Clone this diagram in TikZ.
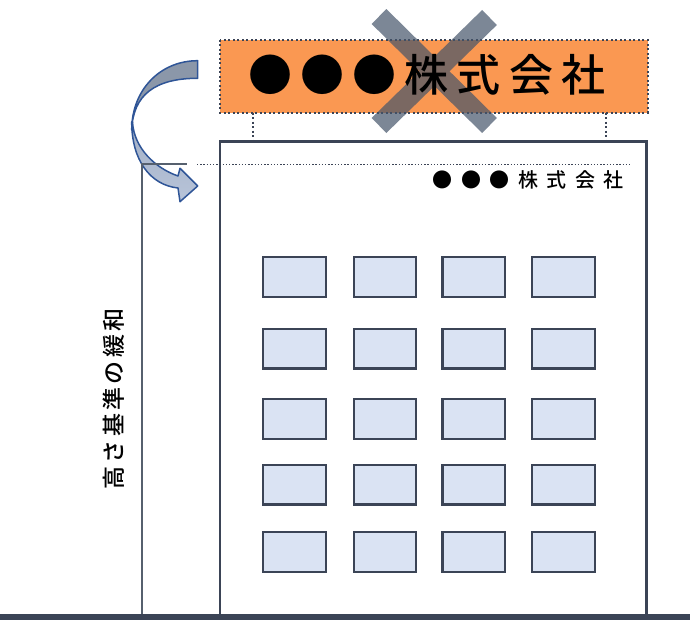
\documentclass[tikz,border=0pt]{standalone}
\usepackage{fontspec}
\newfontfamily\jp[UprightFont={* Medium}]{Noto Sans CJK JP}
\newfontfamily\jpv[UprightFont={* Medium},LetterSpace=15]{Noto Sans CJK JP}
\definecolor{frame}{HTML}{3B4456}
\definecolor{thinline}{HTML}{56606E}
\definecolor{signfill}{HTML}{FA9852}
\definecolor{winfill}{HTML}{DAE3F3}
\definecolor{xgray}{HTML}{44546A}
\definecolor{arrowline}{HTML}{2F5597}
\definecolor{arrowback}{HTML}{8B97A9}
\definecolor{arrowtop}{HTML}{A3B0C6}
\definecolor{arrowbot}{HTML}{B8C4D9}
\tikzset{
  building/.style={draw=frame, line width=2.8pt},
  winbox/.style={draw=frame, line width=2.2pt, fill=winfill},
  signbox/.style={fill=signfill, draw=frame, line width=2pt, dash pattern=on 2pt off 2.5pt},
  support/.style={draw=frame, line width=2pt, dash pattern=on 2pt off 2.5pt},
  levelline/.style={draw=frame, line width=1.4pt, dash pattern=on 1.4pt off 1.8pt},
  oldheight/.style={draw=thinline, line width=2pt},
  xbar/.style={draw=xgray, line width=21pt, draw opacity=0.7},
  bigchar/.style={anchor=base, inner sep=0pt, font=\jp\fontsize{44}{44}\selectfont},
  smallchar/.style={anchor=base, inner sep=0pt, font=\jp\fontsize{20}{20}\selectfont},
  vlabel/.style={rotate=90, inner sep=0pt, font=\jpv\fontsize{23}{23}\selectfont},
  arrowpart/.style={draw=arrowline, line width=1.5pt, line join=round},
}
\begin{document}
\begin{tikzpicture}[x=1pt,y=-1pt]
\useasboundingbox (0,0) rectangle (690,620);

% curved arrow
\path[arrowpart, fill=arrowback] (197.7,60.7) .. controls (160,60.7) and (131.7,90) .. (131.7,130)
   .. controls (133,95) and (155,78.3) .. (197.7,78.3) -- cycle;
\path[arrowpart, top color=arrowtop, bottom color=arrowbot]
   (131.7,122) .. controls (131.7,160) and (150,185) .. (178,188)
   -- (180,201.7) -- (197.7,186) -- (180,168.3) -- (178,176)
   .. controls (155,168) and (134,148) .. (132.5,122) -- cycle;

% old height limit
\coordinate (oldbase) at (141.7,614);
\coordinate (oldtop) at (141.7,164.3);
\coordinate (oldend) at (186.7,164.3);
\draw[oldheight] (oldbase) -- (oldtop) -- (oldend);

% level dotted line
\coordinate (lvA) at (197,164.7);
\coordinate (lvB) at (630,164.7);
\draw[levelline] (lvA) -- (lvB);

% building
\coordinate (bBL) at (220,614);
\coordinate (bTL) at (220,141.7);
\coordinate (bTR) at (646.7,141.7);
\coordinate (bBR) at (646.7,614);
\draw[building] (bBL) -- (bTL) -- (bTR) -- (bBR);

% windows
\foreach \wx [count=\c] in {263.3,353.7,442.5,532.3}
  \foreach \wy [count=\r] in {257.3,329,399.3,465,532.3}
    \draw[winbox] (\wx,\wy) rectangle ++(62.5,39.5);

% supports
\coordinate (supLt) at (253.3,112.7);
\coordinate (supLb) at (253.3,141);
\coordinate (supRt) at (605.7,112.7);
\coordinate (supRb) at (605.7,141);
\draw[support] (supLt) -- (supLb);
\draw[support] (supRt) -- (supRb);

% sign
\draw[signbox] (220,40) rectangle (647.5,112.7);

% cross
\coordinate (xa) at (379,125.5);
\coordinate (xb) at (489.5,17.5);
\coordinate (xc) at (379,16.5);
\coordinate (xd) at (489.5,125.5);
\draw[xbar] (xa) -- (xb) (xc) -- (xd);

% big sign text
\foreach \ch [count=\i from 0] in {●,●,●,株,式,会,社}
  \node[bigchar] (big\i) at ({270+52.2*\i},91.5) {\ch};

% small sign text
\foreach \ch [count=\i from 0] in {●,●,●,株,式,会,社}
  \node[smallchar] (small\i) at ({442.6+28.5*\i},187.5) {\ch};

% vertical label
\node[vlabel] (vlab) at (114,399) {高さ基準の緩和};

% ground
\fill[frame] (0,614) rectangle (690,620);
\end{tikzpicture}
\end{document}
